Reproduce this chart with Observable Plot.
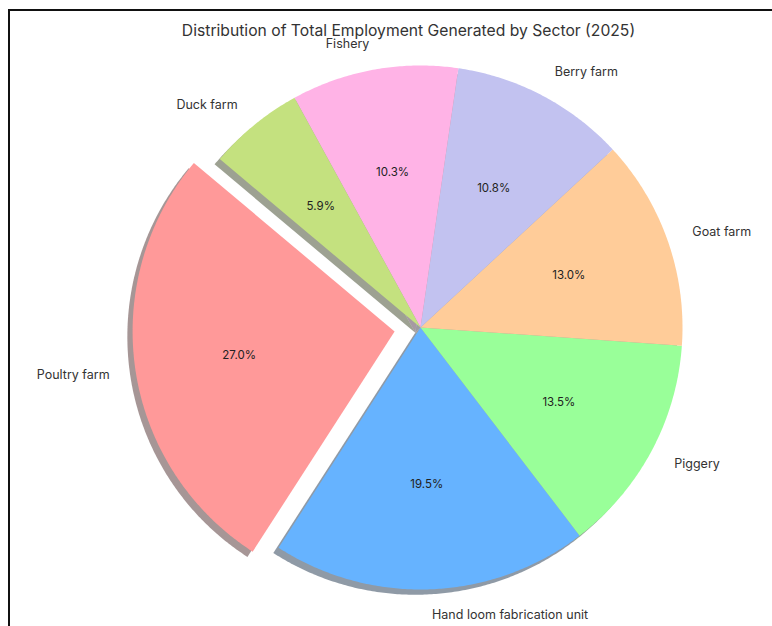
<!DOCTYPE html>
<html>
<head>
<meta charset="utf-8">
<script src="https://cdn.jsdelivr.net/npm/d3@7"></script>
<script src="https://cdn.jsdelivr.net/npm/@observablehq/plot@0.6"></script>
<style>
  html, body { margin: 0; padding: 0; background: #fff; overflow: hidden; }
  #wrap { position: relative; width: 772px; height: 626px; }
  #border { position: absolute; left: 8px; top: 9px; width: 800px; height: 700px;
            border-left: 2px solid #111; border-top: 2px solid #111; pointer-events: none; }
</style>
</head>
<body>
<div id="wrap"><div id="border"></div></div>
<script>
const title = "Distribution of Total Employment Generated by Sector (2025)";
const sectors = ["Poultry farm", "Hand loom fabrication unit", "Piggery", "Goat farm", "Berry farm", "Fishery", "Duck farm"];
const shares = [27.0, 19.5, 13.5, 13.0, 10.8, 10.3, 5.9];
const colors = ["#ff9999", "#66b3ff", "#99ff99", "#ffcc99", "#c2c2f0", "#ffb3e6", "#c4e17f"];
const explode = [0.1, 0, 0, 0, 0, 0, 0];
const startAngle = 140;

const total = d3.sum(shares);
const rad = Math.PI / 180;
let cum = 0;
const wedges = sectors.map((name, i) => {
  const t1 = startAngle + cum / total * 360;
  cum += shares[i];
  const t2 = startAngle + cum / total * 360;
  const tm = (t1 + t2) / 2 * rad;
  const cx = explode[i] * Math.cos(tm), cy = explode[i] * Math.sin(tm);
  return {name, share: shares[i], color: colors[i], t1, t2, tm, cx, cy};
});

function wedgePoints(w, ox, oy, key) {
  const pts = [{x: w.cx + ox, y: w.cy + oy, k: key, c: w.color}];
  const n = Math.max(2, Math.ceil((w.t2 - w.t1) / 0.5));
  for (let j = 0; j <= n; j++) {
    const a = (w.t1 + (w.t2 - w.t1) * j / n) * rad;
    pts.push({x: w.cx + ox + Math.cos(a), y: w.cy + oy + Math.sin(a), k: key, c: w.color});
  }
  pts.push({x: w.cx + ox, y: w.cy + oy, k: key, c: w.color});
  return pts;
}
function shade(hex) {
  const c = d3.rgb(hex);
  return d3.rgb(c.r * 0.3, c.g * 0.3, c.b * 0.3).formatHex();
}

const shadowPts = wedges.flatMap(w => wedgePoints({...w, color: shade(w.color)}, -0.02, -0.02, "s" + w.name));
const wedgePts = wedges.flatMap(w => wedgePoints(w, 0, 0, w.name));

const labelData = wedges.map(w => ({
  name: w.name,
  x: w.cx + 1.1 * Math.cos(w.tm),
  y: w.cy + 1.1 * Math.sin(w.tm),
  anchor: Math.abs(Math.cos(w.tm)) < 1e-6 ? "middle" : (Math.cos(w.tm) < 0 ? "end" : "start")
}));
const pctData = wedges.map(w => ({
  text: w.share.toFixed(1) + "%",
  x: w.cx + 0.6 * Math.cos(w.tm),
  y: w.cy + 0.6 * Math.sin(w.tm)
}));

const W = 772, H = 626, R = 262, CX = 420, CY = 327;
const font = "Inter, 'Noto Sans', sans-serif";

const chart = Plot.plot({
  width: W, height: H,
  margin: 0,
  x: {axis: null, domain: [-CX / R, (W - CX) / R]},
  y: {axis: null, domain: [-(H - CY) / R, CY / R]},
  color: {type: "identity"},
  style: {fontFamily: font, background: "transparent"},
  marks: [
    Plot.line(shadowPts, {x: "x", y: "y", z: "k", fill: "c", fillOpacity: 0.5, stroke: null}),
    Plot.line(wedgePts, {x: "x", y: "y", z: "k", fill: "c", stroke: null}),
    Plot.text(pctData, {x: "x", y: "y", text: "text", fontSize: 11.5, fill: "#222", textAnchor: "middle", lineAnchor: "middle"}),
    Plot.text(labelData.filter(d => d.anchor === "end"), {x: "x", y: "y", text: "name", fontSize: 12.5, fill: "#333", textAnchor: "end", lineAnchor: "middle"}),
    Plot.text(labelData.filter(d => d.anchor === "start"), {x: "x", y: "y", text: "name", fontSize: 12.5, fill: "#333", textAnchor: "start", lineAnchor: "middle"}),
    Plot.text([title], {frameAnchor: "top", dy: 30, dx: 22, text: d => d, fontSize: 15.7, fill: "#333", textAnchor: "middle", lineAnchor: "middle"})
  ]
});
chart.style.position = "absolute";
chart.style.left = "0px";
chart.style.top = "0px";
document.getElementById("wrap").prepend(chart);
</script>
</body>
</html>
